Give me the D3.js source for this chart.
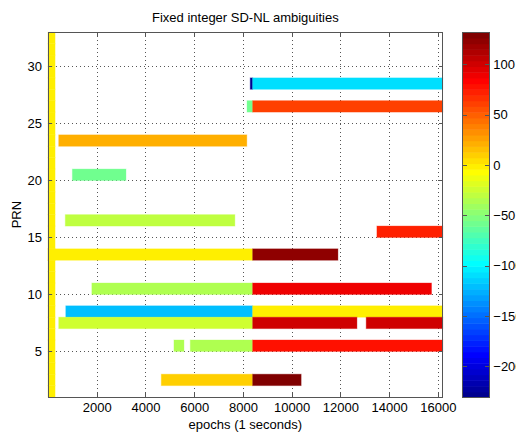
<!DOCTYPE html>
<html>
<head>
<meta charset="utf-8">
<script src="https://cdn.jsdelivr.net/npm/d3@7"></script>
<style>
  body { margin: 0; background: #fff; }
  svg { display: block; font-family: "Liberation Sans", Arial, Helvetica, sans-serif; }
</style>
</head>
<body>
<svg id="chart" width="516" height="434"></svg>
<script>
// ---- data -------------------------------------------------------------
const epochDomain = [0, 16200];
const prnDomain = [1, 33];
const colorDomain = [-231, 132];

const xTicks = [2000, 4000, 6000, 8000, 10000, 12000, 14000, 16000];
const yTicks = [5, 10, 15, 20, 25, 30];
const cTicks = [-200, -150, -100, -50, 0, 50, 100];

// initial block: every PRN fixed at the start of the session
const initPRNs = d3.range(1, 33);
const initStart = 0;
const initStop = 290;
const initValue = 0;

// fixed ambiguity segments: PRN, first epoch, last epoch, value (cycles)
const segPRN   = [28,    28,    26,    26,    23,   20,   16,   15,    13,   13,    10,   10,    8,    8,     7,    7,     7,     5,    5,    5,     2,    2];
const segStart = [8300,  8400,  8170,  8400,  440,  1000, 710,  13500, 0,    8400,  1800, 8400,  730,  8400,  440,  8400,  13060, 5170, 5840, 8400,  4650, 8400];
const segStop  = [8400,  16200, 8400,  16200, 8160, 3200, 7670, 16200, 8400, 11900, 8400, 15740, 8400, 16200, 8400, 12680, 16200, 5580, 8400, 16200, 8400, 10390];
const segValue = [-228,  -109,  -58,   61,    21,   -58,  -30,  72,    0,    123,   -35,  90,    -120, 0,     -24,  100,   100,   -35,  -35,  78,    10,   130];

// ---- layout -----------------------------------------------------------
const plot = { left: 48, right: 442.7, top: 32.3, bottom: 397 };
const cbar = { left: 462.7, right: 489.3, top: 32.3, bottom: 397.5 };
const fontSize = 13;

const svg = d3.select("#chart");

// MATLAB-style jet colormap with 64 entries
function jet(n) {
  const m = Math.ceil(n / 4);
  const u = [];
  for (let i = 1; i <= m; i++) u.push(i / m);
  for (let i = 1; i < m; i++) u.push(1);
  for (let i = m; i >= 1; i--) u.push(i / m);
  const g0 = Math.ceil(m / 2) - (n % 4 === 1 ? 1 : 0);
  const J = Array.from({ length: n }, () => [0, 0, 0]);
  u.forEach((v, k) => {
    const g = g0 + k + 1, r = g + m, b = g - m;
    if (g >= 1 && g <= n) J[g - 1][1] = v;
    if (r >= 1 && r <= n) J[r - 1][0] = v;
    if (b >= 1 && b <= n) J[b - 1][2] = v;
  });
  return J.map(c => d3.rgb(c[0] * 255, c[1] * 255, c[2] * 255).formatHex());
}
const jetColors = jet(64);

const x = d3.scaleLinear().domain(epochDomain).range([plot.left, plot.right]);
const y = d3.scaleLinear().domain(prnDomain).range([plot.bottom, plot.top]);
const color = d3.scaleQuantize().domain(colorDomain).range(jetColors);

// ---- grid (below data) -------------------------------------------------
const grid = svg.append("g").attr("stroke", "#555").attr("stroke-width", 1)
  .attr("stroke-dasharray", "1,3").attr("shape-rendering", "crispEdges");
grid.selectAll("line.vx").data(xTicks).join("line")
  .attr("x1", d => Math.round(x(d)) + 0.5).attr("x2", d => Math.round(x(d)) + 0.5)
  .attr("y1", plot.top).attr("y2", plot.bottom);
grid.selectAll("line.hy").data(yTicks).join("line")
  .attr("y1", d => Math.round(y(d)) + 0.5).attr("y2", d => Math.round(y(d)) + 0.5)
  .attr("x1", plot.left).attr("x2", plot.right);

// ---- cells -------------------------------------------------------------
const cells = [];
initPRNs.forEach(p => cells.push({ prn: p, s: initStart, e: initStop, v: initValue }));
segPRN.forEach((p, i) => cells.push({ prn: p, s: segStart[i], e: segStop[i], v: segValue[i] }));

svg.append("g").selectAll("rect").data(cells).join("rect")
  .attr("x", d => x(d.s))
  .attr("width", d => x(d.e) - x(d.s))
  .attr("y", d => y(d.prn + 1))
  .attr("height", d => y(d.prn) - y(d.prn + 1))
  .attr("fill", d => color(d.v))
  .attr("stroke", d => color(d.v))
  .attr("stroke-opacity", 0.35)
  .attr("stroke-width", 1);

// ---- axes frame and ticks ---------------------------------------------
const axisColor = "#555";
const tickLen = 4;
const frame = svg.append("g").attr("stroke", axisColor).attr("stroke-width", 1).attr("shape-rendering", "crispEdges");
frame.append("rect")
  .attr("x", plot.left).attr("y", plot.top)
  .attr("width", plot.right - plot.left).attr("height", plot.bottom - plot.top)
  .attr("fill", "none");

const xAxisB = d3.axisBottom(x).tickValues(xTicks).tickSize(0).tickPadding(6).tickFormat(d3.format("d"));
const yAxisL = d3.axisLeft(y).tickValues(yTicks).tickSize(0).tickPadding(6).tickFormat(d3.format("d"));

svg.append("g").attr("transform", `translate(0,${plot.bottom})`).call(xAxisB)
  .call(g => g.select(".domain").remove())
  .selectAll("text").attr("font-size", fontSize).attr("fill", "#000").attr("font-family", "Liberation Sans, Arial, sans-serif");
svg.append("g").attr("transform", `translate(${plot.left},0)`).call(yAxisL)
  .call(g => g.select(".domain").remove())
  .selectAll("text").attr("font-size", fontSize).attr("fill", "#000").attr("font-family", "Liberation Sans, Arial, sans-serif");

xTicks.forEach(t => {
  const px = Math.round(x(t)) + 0.5;
  frame.append("line").attr("x1", px).attr("x2", px).attr("y1", plot.bottom).attr("y2", plot.bottom - tickLen);
  frame.append("line").attr("x1", px).attr("x2", px).attr("y1", plot.top).attr("y2", plot.top + tickLen);
});
yTicks.forEach(t => {
  const py = Math.round(y(t)) + 0.5;
  frame.append("line").attr("y1", py).attr("y2", py).attr("x1", plot.left).attr("x2", plot.left + tickLen);
  frame.append("line").attr("y1", py).attr("y2", py).attr("x1", plot.right).attr("x2", plot.right - tickLen);
});

// ---- labels ------------------------------------------------------------
svg.append("text")
  .attr("x", (plot.left + plot.right) / 2).attr("y", 22)
  .attr("text-anchor", "middle").attr("font-size", fontSize)
  .text("Fixed integer SD-NL ambiguities");
svg.append("text")
  .attr("x", (plot.left + plot.right) / 2).attr("y", 429)
  .attr("text-anchor", "middle").attr("font-size", fontSize)
  .text("epochs (1 seconds)");
svg.append("text")
  .attr("transform", `translate(21,${(plot.top + plot.bottom) / 2}) rotate(-90)`)
  .attr("text-anchor", "middle").attr("font-size", fontSize)
  .text("PRN");

// ---- colorbar ----------------------------------------------------------
const cy = d3.scaleLinear().domain(colorDomain).range([cbar.bottom, cbar.top]);
const bins = jetColors.map(c => {
  const [a, b] = color.invertExtent(c);
  return { c, a, b };
});
svg.append("g").selectAll("rect").data(bins).join("rect")
  .attr("x", cbar.left).attr("width", cbar.right - cbar.left)
  .attr("y", d => cy(d.b)).attr("height", d => cy(d.a) - cy(d.b) + 0.5)
  .attr("fill", d => d.c);

const cframe = svg.append("g").attr("stroke", axisColor).attr("stroke-width", 1).attr("shape-rendering", "crispEdges");
cframe.append("rect")
  .attr("x", cbar.left).attr("y", cbar.top)
  .attr("width", cbar.right - cbar.left).attr("height", cbar.bottom - cbar.top)
  .attr("fill", "none");
cTicks.forEach(t => {
  const py = Math.round(cy(t)) + 0.5;
  cframe.append("line").attr("y1", py).attr("y2", py).attr("x1", cbar.right).attr("x2", cbar.right - tickLen);
  cframe.append("line").attr("y1", py).attr("y2", py).attr("x1", cbar.left).attr("x2", cbar.left + tickLen);
});
const cAxis = d3.axisRight(cy).tickValues(cTicks).tickSize(0).tickPadding(4).tickFormat(d3.format("d"));
svg.append("g").attr("transform", `translate(${cbar.right},0)`).call(cAxis)
  .call(g => g.select(".domain").remove())
  .selectAll("text").attr("font-size", fontSize).attr("fill", "#000").attr("font-family", "Liberation Sans, Arial, sans-serif");
</script>
</body>
</html>
